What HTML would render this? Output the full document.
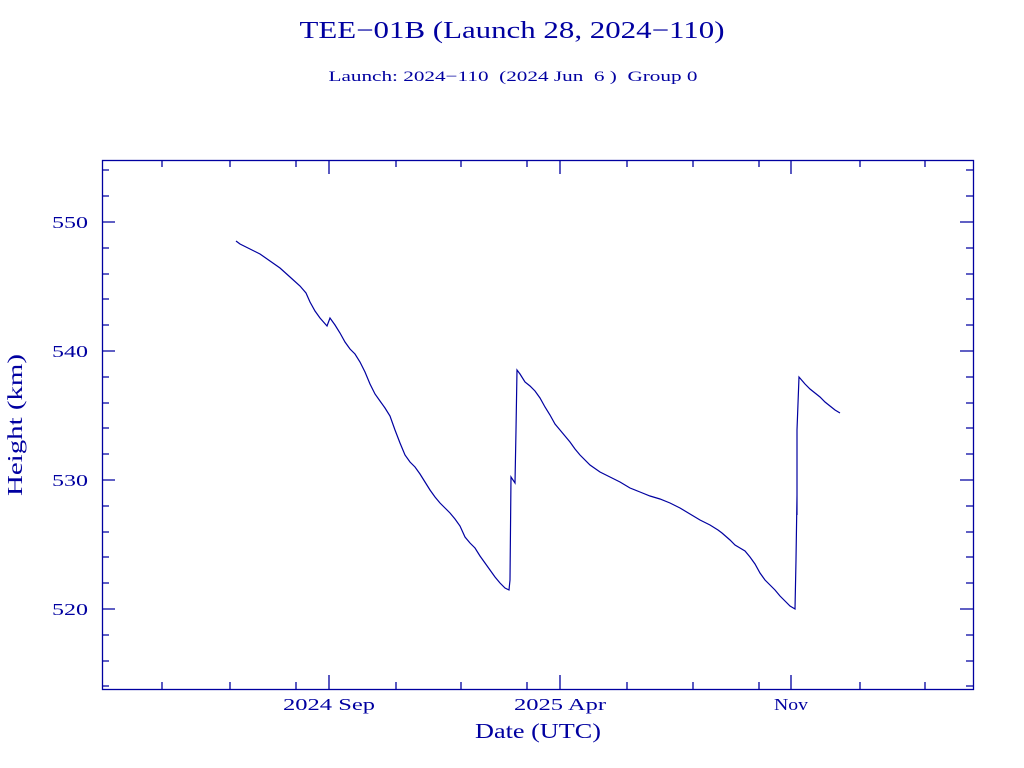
<!DOCTYPE html>
<html><head><meta charset="utf-8"><style>html,body{margin:0;padding:0;background:#fff}svg{display:block}</style></head>
<body>
<svg width="1024" height="768" xmlns="http://www.w3.org/2000/svg" font-family="Liberation Serif, serif" fill="#0000a0">
<rect width="1024" height="768" fill="#fff"/>
<text x="512" y="38" font-size="24" text-anchor="middle" textLength="425" lengthAdjust="spacingAndGlyphs">TEE−01B (Launch 28, 2024−110)</text>
<text x="513" y="81" font-size="15" text-anchor="middle" textLength="369" lengthAdjust="spacingAndGlyphs" xml:space="preserve">Launch: 2024−110  (2024 Jun  6 )  Group 0</text>
<g stroke="#0000a0" stroke-width="1.3" fill="none">
<rect x="102.5" y="160.5" width="871" height="529"/>
<path d="M102 222h13M973 222h-13M102 351h13M973 351h-13M102 480h13M973 480h-13M102 609h13M973 609h-13"/>
<path d="M102 170h7M102 196h7M102 248h7M102 274h7M102 299h7M102 325h7M102 377h7M102 403h7M102 428h7M102 454h7M102 506h7M102 532h7M102 557h7M102 583h7M102 635h7M102 661h7M102 686h7
M973 170h-7M973 196h-7M973 248h-7M973 274h-7M973 299h-7M973 325h-7M973 377h-7M973 403h-7M973 428h-7M973 454h-7M973 506h-7M973 532h-7M973 557h-7M973 583h-7M973 635h-7M973 661h-7M973 686h-7"/>
<path d="M329 689v-14M560 689v-14M791 689v-14M329 160v14M560 160v14M791 160v14"/>
<path d="M162 689v-7M230 689v-7M296 689v-7M396 689v-7M461 689v-7M527 689v-7M627 689v-7M693 689v-7M759 689v-7M860 689v-7M925 689v-7
M162 160v7M230 160v7M296 160v7M396 160v7M461 160v7M527 160v7M627 160v7M693 160v7M759 160v7M860 160v7M925 160v7"/>
<polyline stroke-width="1.2" points="236,241 240,244 250,249 260,254 270,261 280,268 290,277 300,286 306,293 310,302 315,311 320,318 327,326 330,318 335,325 340,333 345,342 350,349 355,354 360,362 365,372 370,384 375,394 380,401 385,408 390,416 395,430 400,443 405,455 410,462 415,467 420,474 425,482 430,490 435,497 440,503 445,508 450,513 455,519 460,526 465,537 470,543 475,548 480,556 485,563 490,570 495,577 500,583 505,588 509,590 510,580 511,477 515,483 516,430 517,370 520,374 525,382 530,386 535,391 540,398 545,407 550,415 555,424 560,430 565,436 570,442 575,449 580,455 590,465 600,472 610,477 620,482 630,488 640,492 650,496 660,499 670,503 680,508 690,514 700,520 710,525 718,530 722,533 730,540 735,545 740,548 745,551 750,557 755,564 760,573 765,580 770,585 775,590 780,596 785,601 790,606 795,609 796,560 797,495 797,515 797,430 799,377 805,384 810,389 815,393 820,397 825,402 830,406 835,410 840,413"/>
</g>
<g font-size="17" text-anchor="end">
<text x="88" y="228" textLength="36" lengthAdjust="spacingAndGlyphs">550</text><text x="88" y="357" textLength="36" lengthAdjust="spacingAndGlyphs">540</text><text x="88" y="486" textLength="36" lengthAdjust="spacingAndGlyphs">530</text><text x="88" y="615" textLength="36" lengthAdjust="spacingAndGlyphs">520</text>
</g>
<g font-size="17" text-anchor="middle">
<text x="329" y="710" textLength="92" lengthAdjust="spacingAndGlyphs">2024 Sep</text>
<text x="560" y="710" textLength="92" lengthAdjust="spacingAndGlyphs">2025 Apr</text>
<text x="791" y="710" textLength="34" lengthAdjust="spacingAndGlyphs">Nov</text>
</g>
<text x="538" y="738" font-size="21" text-anchor="middle" textLength="126" lengthAdjust="spacingAndGlyphs">Date (UTC)</text>
<text transform="translate(22,425) rotate(-90)" font-size="21" text-anchor="middle" textLength="142" lengthAdjust="spacingAndGlyphs">Height (km)</text>
</svg>
</body></html>
